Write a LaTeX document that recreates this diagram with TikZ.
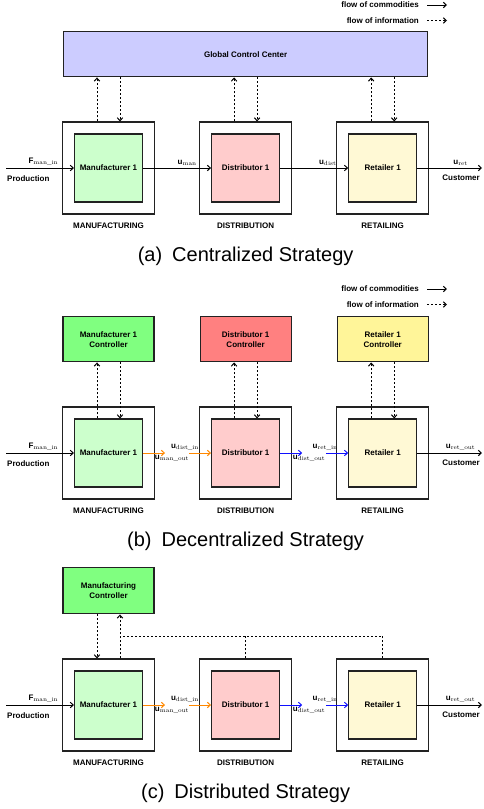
\documentclass[tikz,border=0pt]{standalone}
\usepackage{fontspec}
\setsansfont{Liberation Sans}
\renewcommand{\familydefault}{\sfdefault}
\definecolor{lila}{HTML}{CCCCFF}
\definecolor{menta}{HTML}{CCFFCC}
\definecolor{rosa}{HTML}{FFCCCC}
\definecolor{crema}{HTML}{FFF9D5}
\definecolor{verdef}{HTML}{80FF80}
\definecolor{rojof}{HTML}{FF8080}
\definecolor{amarillof}{HTML}{FFF599}
\definecolor{naranja}{HTML}{FF8800}
\definecolor{azulf}{HTML}{1010FF}
\definecolor{borde}{HTML}{222222}
\usepackage{tikz}
\usetikzlibrary{arrows.meta,positioning}

\begin{document}
\begin{tikzpicture}[x=1pt,y=1pt,
    every node/.style={font=\bfseries\fontsize{8}{9.6}\selectfont},
    stage/.style={draw=borde,line width=1.1pt,minimum size=92pt,inner sep=0pt},
    unit/.style={draw=borde,line width=1.1pt,minimum size=68pt,inner sep=0pt},
    ctrl/.style={draw=borde,line width=1.1pt,minimum width=91pt,minimum height=45pt,
                 align=center,inner sep=0pt},
    tag/.style={inner sep=1pt},
    flow/.style={-{Straight Barb[length=3pt,width=5.5pt]},line width=1pt},
    info/.style={flow,dash pattern=on 2pt off 2pt},
    caption/.style={font=\fontsize{20}{24}\selectfont,inner sep=0pt}]

  \useasboundingbox (0,0) rectangle (483,-809);

  % supply chain row, the same in every strategy
  \foreach \p/\y/\o in {a/-168/ret, b/-453/ret\_out, c/-705/ret\_out}{
    \node[stage] (\p-man) at (108.5,\y) {};
    \node[stage,right=44pt of \p-man] (\p-dist) {};
    \node[stage,right=44pt of \p-dist] (\p-ret) {};
    \node[unit,fill=menta] (\p-man-u) at (\p-man) {Manufacturer 1};
    \node[unit,fill=rosa] (\p-dist-u) at (\p-dist) {Distributor 1};
    \node[unit,fill=crema] (\p-ret-u) at (\p-ret) {Retailer 1};
    \node[tag,below=7pt of \p-man] (\p-man-t) {MANUFACTURING};
    \node[tag,below=7pt of \p-dist] (\p-dist-t) {DISTRIBUTION};
    \node[tag,below=7pt of \p-ret] (\p-ret-t) {RETAILING};
    \coordinate (\p-in) at (6,\y);
    \coordinate (\p-out) at (482,\y);
    \draw[flow] (\p-in) -- node[tag,above=1pt,pos=0.55] {F$_{\mathrm{man\_in}}$} (\p-man-u.west);
    \draw[flow] (\p-ret-u.east) -- node[tag,above=1pt,pos=0.67] {u$_{\mathrm{\o}}$} (\p-out);
    \node[tag,below right=6pt and 0pt of \p-in] (\p-prod) {Production};
    \node[tag,below left=6pt and 1pt of \p-out] (\p-cust) {Customer};
  }

  % legend
  \foreach \p/\y in {a/-5,b/-289}{
    \node[tag,anchor=east] (\p-leg1) at (420,\y) {flow of commodities};
    \node[tag,anchor=east] (\p-leg2) at (420,\y-15.5) {flow of information};
    \draw[flow] ([xshift=7pt]\p-leg1.east) -- ([xshift=27pt]\p-leg1.east);
    \draw[info] ([xshift=7pt]\p-leg2.east) -- ([xshift=27pt]\p-leg2.east);
  }

  % (a) centralized
  \node[ctrl,fill=lila,minimum width=364pt,above=44pt of a-dist] (a-gcc) {Global Control Center};
  \draw[flow] (a-man-u.east) -- node[tag,above=1pt,pos=0.65] {u$_{\mathrm{man}}$} (a-dist-u.west);
  \draw[flow] (a-dist-u.east) -- node[tag,above=1pt,pos=0.7] {u$_{\mathrm{dist}}$} (a-ret-u.west);
  \foreach \s in {man,dist,ret}{
    \coordinate (a-\s-l) at ([xshift=-11.5pt]a-\s.north);
    \coordinate (a-\s-r) at ([xshift=11.5pt]a-\s.north);
    \draw[info] (a-\s-l) -- (a-\s-l |- a-gcc.south);
    \draw[info] (a-\s-r |- a-gcc.south) -- (a-\s-r);
  }
  \node[caption,below=32pt of a-dist] (a-cap) {(a)\enspace Centralized Strategy};

  % (b) and (c) exchange goods between the stages
  \foreach \p in {b,c}{
    \coordinate (\p-man-o) at ([xshift=22pt]\p-man-u.east);
    \coordinate (\p-dist-i) at ([xshift=-22pt]\p-dist-u.west);
    \coordinate (\p-dist-o) at ([xshift=22pt]\p-dist-u.east);
    \coordinate (\p-ret-i) at ([xshift=-22pt]\p-ret-u.west);
    \draw[flow,naranja] (\p-man-u.east) -- (\p-man-o);
    \draw[flow,naranja] (\p-dist-i) -- (\p-dist-u.west);
    \draw[flow,azulf] (\p-dist-u.east) -- (\p-dist-o);
    \draw[flow,azulf] (\p-ret-i) -- (\p-ret-u.west);
    \node[tag,below=1pt of \p-man-o,xshift=7pt] (\p-man-ol) {u$_{\mathrm{man\_out}}$};
    \node[tag,above=1pt of \p-dist-i,xshift=-4pt] (\p-dist-il) {u$_{\mathrm{dist\_in}}$};
    \node[tag,below=1pt of \p-dist-o,xshift=7pt] (\p-dist-ol) {u$_{\mathrm{dist\_out}}$};
    \node[tag,above=1pt of \p-ret-i,xshift=-1pt] (\p-ret-il) {u$_{\mathrm{ret\_in}}$};
  }

  % (b) decentralized
  \node[ctrl,fill=verdef,above=44pt of b-man] (b-man-c) {Manufacturer 1\\Controller};
  \node[ctrl,fill=rojof,above=44pt of b-dist] (b-dist-c) {Distributor 1\\Controller};
  \node[ctrl,fill=amarillof,above=44pt of b-ret] (b-ret-c) {Retailer 1\\Controller};
  \foreach \s in {man,dist,ret}{
    \coordinate (b-\s-l) at ([xshift=-11.5pt]b-\s-u.north);
    \coordinate (b-\s-r) at ([xshift=11.5pt]b-\s-u.north);
    \draw[info] (b-\s-l) -- (b-\s-l |- b-\s-c.south);
    \draw[info] (b-\s-r |- b-\s-c.south) -- (b-\s-r);
  }
  \node[caption,below=32pt of b-dist] (b-cap) {(b)\enspace Decentralized Strategy};

  % (c) distributed
  \node[ctrl,fill=verdef,minimum height=46pt,above=44pt of c-man] (c-man-c) {Manufacturing\\Controller};
  \coordinate (c-man-l) at ([xshift=-11.5pt]c-man.north);
  \coordinate (c-man-r) at ([xshift=11.5pt]c-man.north);
  \coordinate (c-bus) at ([yshift=22pt]c-man-r);
  \draw[info] (c-man-l |- c-man-c.south) -- (c-man-l);
  \draw[info] (c-man-r) -- (c-man-r |- c-man-c.south);
  \draw[info,-] (c-ret.north) |- (c-bus);
  \draw[info,-] (c-dist.north) -- (c-dist.north |- c-bus);
  \node[caption,below=32pt of c-dist] (c-cap) {(c)\enspace Distributed Strategy};
\end{tikzpicture}
\end{document}
